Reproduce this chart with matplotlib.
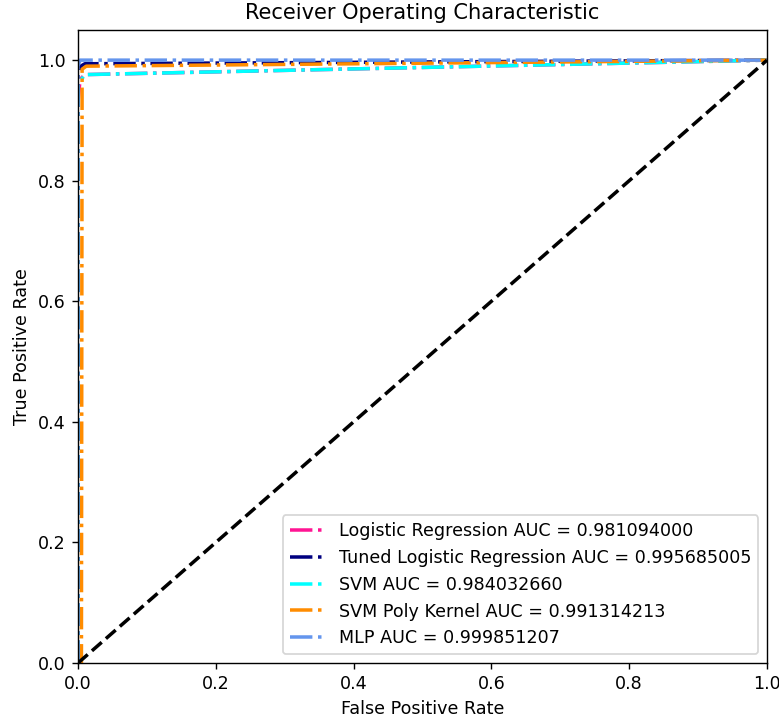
import matplotlib
matplotlib.use("Agg")
import matplotlib.pyplot as plt

# ROC points per model (false positive rate, true positive rate)
lr_fpr = [0.0, 0.0, 0.003, 0.01, 1.0]
lr_tpr = [0.0, 0.93, 0.968, 0.976, 1.0]
lr_auc = 0.981094000

tuned_fpr = [0.0, 0.0, 0.004, 0.01, 1.0]
tuned_tpr = [0.0, 0.98, 0.99, 0.994, 1.0]
tuned_auc = 0.995685005

svm_fpr = [0.0, 0.0, 0.01, 1.0]
svm_tpr = [0.0, 0.96, 0.976, 1.0]
svm_auc = 0.984032660

poly_fpr = [0.0, 0.005, 0.006, 0.012, 1.0]
poly_tpr = [0.0, 0.0, 0.985, 0.99, 1.0]
poly_auc = 0.991314213

mlp_fpr = [0.0, 0.0, 0.003, 1.0]
mlp_tpr = [0.0, 0.99, 1.0, 1.0]
mlp_auc = 0.999851207

models = [
    ("Logistic Regression", lr_fpr, lr_tpr, lr_auc, "deeppink"),
    ("Tuned Logistic Regression", tuned_fpr, tuned_tpr, tuned_auc, "navy"),
    ("SVM", svm_fpr, svm_tpr, svm_auc, "aqua"),
    ("SVM Poly Kernel", poly_fpr, poly_tpr, poly_auc, "darkorange"),
    ("MLP", mlp_fpr, mlp_tpr, mlp_auc, "cornflowerblue"),
]

dpi = 126
fig = plt.figure(figsize=(779 / dpi, 721 / dpi), dpi=dpi)
ax = fig.add_axes([0.1001, 0.0804, 0.8845, 0.878])

for name, fpr, tpr, auc, color in models:
    ax.plot(fpr, tpr, color=color, linestyle="-.", lw=2,
            label="%s AUC = %0.9f" % (name, auc))

ax.plot([0, 1], [0, 1], "k--", lw=2)
ax.set_xlim([0.0, 1.0])
ax.set_ylim([0.0, 1.05])
ax.set_xlabel("False Positive Rate")
ax.set_ylabel("True Positive Rate")
ax.set_title("Receiver Operating Characteristic")
ax.legend(loc="lower right")

fig.savefig("out.png", dpi=dpi)
